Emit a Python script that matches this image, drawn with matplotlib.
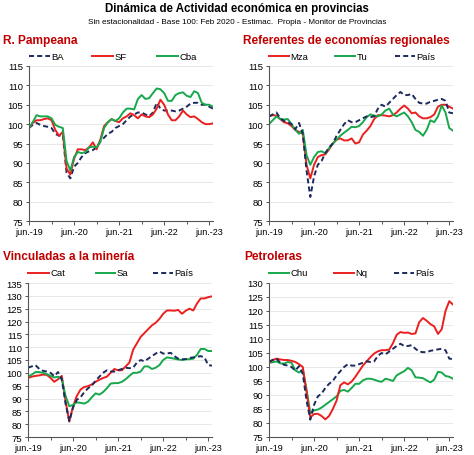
import numpy as np
import matplotlib
matplotlib.use("Agg")
import matplotlib.pyplot as plt
from matplotlib.lines import Line2D

plt.rcParams['font.family'] = ['Liberation Sans', 'DejaVu Sans']

# ---------------- data (monthly, jun-19 .. jul-23) ----------------
tick_labels = ["jun.-19", "jun.-20", "jun.-21", "jun.-22", "jun.-23"]

ba = [99.0, 99.8, 100.3, 99.8, 99.5, 99.3, 99.0, 97.5, 97.0, 97.3,
      87.5, 86.0, 89.0, 90.0, 91.5, 92.5, 93.0, 93.3, 94.0, 95.5,
      96.5, 97.5, 98.0, 99.0, 99.5, 100.0, 101.0, 102.0, 102.5, 103.0,
      103.0, 102.5, 102.0, 103.0, 105.5, 104.0, 103.5, 103.5, 103.5, 103.3,
      103.5, 104.0, 104.5, 105.3, 105.5, 105.5, 105.0, 105.0, 104.5, 104.0]
sf = [99.0, 100.3, 101.0, 101.0, 101.3, 101.5, 101.0, 98.5, 97.0, 98.0,
      88.5, 87.0, 91.0, 93.5, 93.5, 93.3, 94.0, 95.3, 93.5, 96.0,
      99.5, 100.5, 101.3, 100.8, 100.5, 101.5, 102.0, 102.8, 102.3, 101.5,
      102.5, 102.0, 101.8, 102.5, 104.0, 106.3, 105.0, 102.5, 101.0, 101.0,
      102.0, 103.5, 102.5, 101.8, 102.0, 101.3, 100.5, 100.0, 100.0, 100.2]
cba = [99.0, 100.5, 102.3, 102.0, 102.0, 102.0, 101.5, 99.8, 99.3, 99.0,
       90.5, 88.0, 91.5, 92.8, 92.5, 92.8, 94.0, 94.2, 94.0, 95.5,
       99.0, 100.5, 101.3, 100.8, 101.5, 103.0, 104.0, 104.0, 103.8, 106.5,
       107.5, 106.5, 106.7, 108.0, 109.2, 109.0, 108.0, 106.0, 106.0, 107.5,
       108.0, 108.2, 107.3, 107.0, 108.5, 108.0, 105.5, 105.0, 105.0, 104.5]

pais = [102.0, 102.5, 103.0, 101.5, 100.8, 100.5, 100.0, 98.7, 100.3, 97.5,
        88.0, 81.2, 86.5, 89.5, 90.5, 92.5, 94.0, 95.0, 97.0, 98.5,
        100.0, 101.0, 100.5, 100.5, 101.0, 101.5, 102.0, 101.8, 102.0, 104.0,
        105.0, 104.5, 105.5, 106.5, 107.5, 108.3, 107.5, 107.5, 107.8, 106.5,
        105.5, 105.3, 105.3, 105.8, 106.0, 106.3, 106.5, 106.0, 103.0, 102.8]
mza = [102.0, 102.3, 102.2, 101.3, 100.5, 100.2, 99.5, 98.5, 98.0, 97.5,
       89.5, 86.0, 89.5, 91.5, 92.0, 92.2, 93.5, 95.0, 96.0, 96.3,
       95.8, 95.8, 96.3, 95.0, 95.3, 97.3, 98.3, 99.5, 101.3, 102.3,
       102.3, 102.2, 102.0, 102.3, 103.0, 104.0, 104.8, 104.0, 102.8, 103.0,
       102.0, 101.5, 101.5, 101.8, 102.5, 104.5, 105.0, 105.0, 104.5, 104.0]
tu = [100.0, 101.0, 102.0, 101.3, 101.2, 101.3, 100.0, 98.5, 97.5, 98.5,
      92.0, 89.5, 91.5, 92.8, 93.0, 92.5, 93.8, 95.0, 96.0, 97.0,
      97.8, 98.5, 99.3, 99.2, 99.5, 100.5, 101.8, 102.5, 102.2, 102.0,
      102.5, 103.5, 104.0, 102.5, 102.0, 102.5, 103.0, 102.0, 100.5, 98.5,
      98.0, 97.0, 98.5, 101.0, 100.5, 102.0, 104.8, 103.0, 99.0, 98.3]

cat = [98.0, 98.5, 98.8, 99.0, 99.3, 99.2, 98.0, 96.5, 97.5, 98.8,
       89.0, 81.0, 87.0, 91.0, 93.5, 94.5, 94.8, 95.5, 96.5, 97.3,
       98.0, 98.5, 100.0, 101.5, 101.0, 101.0, 102.5, 104.0, 109.0, 111.5,
       114.0, 115.5, 117.0, 118.5, 119.5, 121.0, 123.0, 124.3, 124.3, 124.2,
       124.5, 123.0, 124.2, 125.0, 124.3, 127.0, 129.0, 129.0, 129.5, 129.8]
sa = [98.5, 99.3, 100.3, 100.3, 100.0, 99.5, 98.8, 98.2, 98.5, 97.5,
      91.0, 87.0, 87.5, 88.5, 88.3, 88.0, 88.8, 90.5, 92.0, 91.5,
      92.5, 94.0, 95.8, 96.0, 96.0, 96.5, 97.5, 98.8, 100.0, 100.0,
      100.5, 102.5, 102.5, 101.5, 102.0, 103.0, 105.0, 106.0, 105.8, 105.5,
      105.2, 105.0, 105.3, 105.3, 105.5, 107.0, 109.3, 109.3, 108.5, 108.5]

chu = [101.5, 101.7, 102.0, 101.3, 101.2, 101.8, 101.5, 98.8, 98.0, 99.0,
       92.0, 83.5, 84.5, 84.8, 85.5, 86.5, 87.5, 88.5, 89.5, 91.5,
       91.8, 91.2, 92.5, 94.0, 94.0, 95.2, 95.8, 95.8, 95.5, 95.0,
       94.7, 95.8, 95.5, 95.0, 97.0, 97.8, 98.5, 99.7, 98.8, 96.3,
       96.2, 96.0, 95.2, 94.5, 95.5, 98.3, 98.0, 96.8, 96.5, 95.8]
nq = [101.5, 102.5, 103.0, 102.7, 102.5, 102.5, 102.2, 101.8, 101.0, 100.0,
      91.0, 82.0, 83.2, 83.3, 82.5, 81.3, 82.5, 85.0, 88.0, 93.5,
      94.5, 93.8, 94.8, 96.5, 98.5, 100.5, 102.0, 103.5, 104.8, 105.6,
      106.0, 106.0, 106.2, 108.5, 111.5, 112.5, 112.2, 112.3, 111.8, 112.0,
      116.0, 117.5, 116.5, 115.3, 114.5, 111.8, 113.5, 120.0, 123.5, 122.3]

# ---------------- styling ----------------
RED = '#EC1F1F'
GREEN = '#16A84B'
NAVY = '#1D2A5C'
TITLE_RED = '#C00000'
W, H = 474, 456

fig = plt.figure(figsize=(W / 100, H / 100), dpi=100)


def fx(px):
    return px / W


def fy(py):
    return 1 - py / H


fig.text(fx(237), fy(9), "Dinámica de Actividad económica en provincias",
         ha='center', va='center', fontsize=8.3, fontweight='bold')
fig.text(fx(237), fy(22),
         "Sin estacionalidad - Base 100: Feb 2020 - Estimac.  Propia - Monitor de Provincias",
         ha='center', va='center', fontsize=5.9)

x = np.arange(len(ba))


def panel(left_px, top_px, bottom_px, ylim, series, title, title_xy, legend, leg_y):
    ax = fig.add_axes([fx(left_px), fy(bottom_px), (213 - 29) / W,
                       (bottom_px - top_px) / H])
    for vals, color, dashed in series:
        if dashed:
            ax.plot(x, vals, color=color, lw=1.4, ls=(0, (2.6, 1.6)))
        else:
            ax.plot(x, vals, color=color, lw=1.4)
    ax.set_xlim(0, len(x) - 1)
    ax.set_ylim(*ylim)
    ax.set_yticks(np.arange(ylim[0], ylim[1] + 1, 5))
    ax.set_xticks([0, 12, 24, 36, 48])
    ax.set_xticklabels(tick_labels)
    ax.set_xticks([6, 18, 30, 42], minor=True)
    ax.grid(axis='y', color='#E4E4E4', lw=0.6)
    ax.set_axisbelow(True)
    for s in ['top', 'right']:
        ax.spines[s].set_visible(False)
    for s in ['left', 'bottom']:
        ax.spines[s].set_color('#555555')
        ax.spines[s].set_linewidth(0.8)
    ax.tick_params(axis='both', which='both', direction='out', length=2.5,
                   width=0.7, color='#555555', labelsize=6.8, pad=1.5)
    ax.tick_params(axis='x', which='major', length=3, labelsize=6.5)
    fig.text(fx(title_xy[0]), fy(title_xy[1]), title, ha='left', va='center',
             fontsize=8.6, fontweight='bold', color=TITLE_RED)
    for (x0, x1, label, color, dashed) in legend:
        ln = Line2D([fx(x0), fx(x1)], [fy(leg_y), fy(leg_y)],
                    transform=fig.transFigure, color=color, lw=1.4,
                    ls=(0, (2.6, 1.6)) if dashed else '-')
        fig.add_artist(ln)
        fig.text(fx(x1 + 1.5), fy(leg_y), label, ha='left', va='center',
                 fontsize=6.8)
    return ax


panel(29, 67, 222, (75, 115),
      [(ba, NAVY, True), (sf, RED, False), (cba, GREEN, False)],
      "R. Pampeana", (3, 41),
      [(29, 50, "BA", NAVY, True), (92, 113, "SF", RED, False),
       (157, 178, "Cba", GREEN, False)], 57)

panel(269, 67, 222, (75, 115),
      [(mza, RED, False), (tu, GREEN, False), (pais, NAVY, True)],
      "Referentes de economías regionales", (243, 41),
      [(269, 289, "Mza", RED, False), (335, 355, "Tu", GREEN, False),
       (395, 415, "País", NAVY, True)], 57)

panel(28, 284, 438, (75, 135),
      [(cat, RED, False), (sa, GREEN, False), (pais, NAVY, True)],
      "Vinculadas a la minería", (3, 257),
      [(28, 49, "Cat", RED, False), (96, 115, "Sa", GREEN, False),
       (153, 173, "País", NAVY, True)], 274)

panel(269, 284, 438, (75, 130),
      [(chu, GREEN, False), (nq, RED, False), (pais, NAVY, True)],
      "Petroleras", (244, 257),
      [(269, 289, "Chu", GREEN, False), (334, 354, "Nq", RED, False),
       (394, 414, "País", NAVY, True)], 274)

fig.savefig("out.png", dpi=100)
